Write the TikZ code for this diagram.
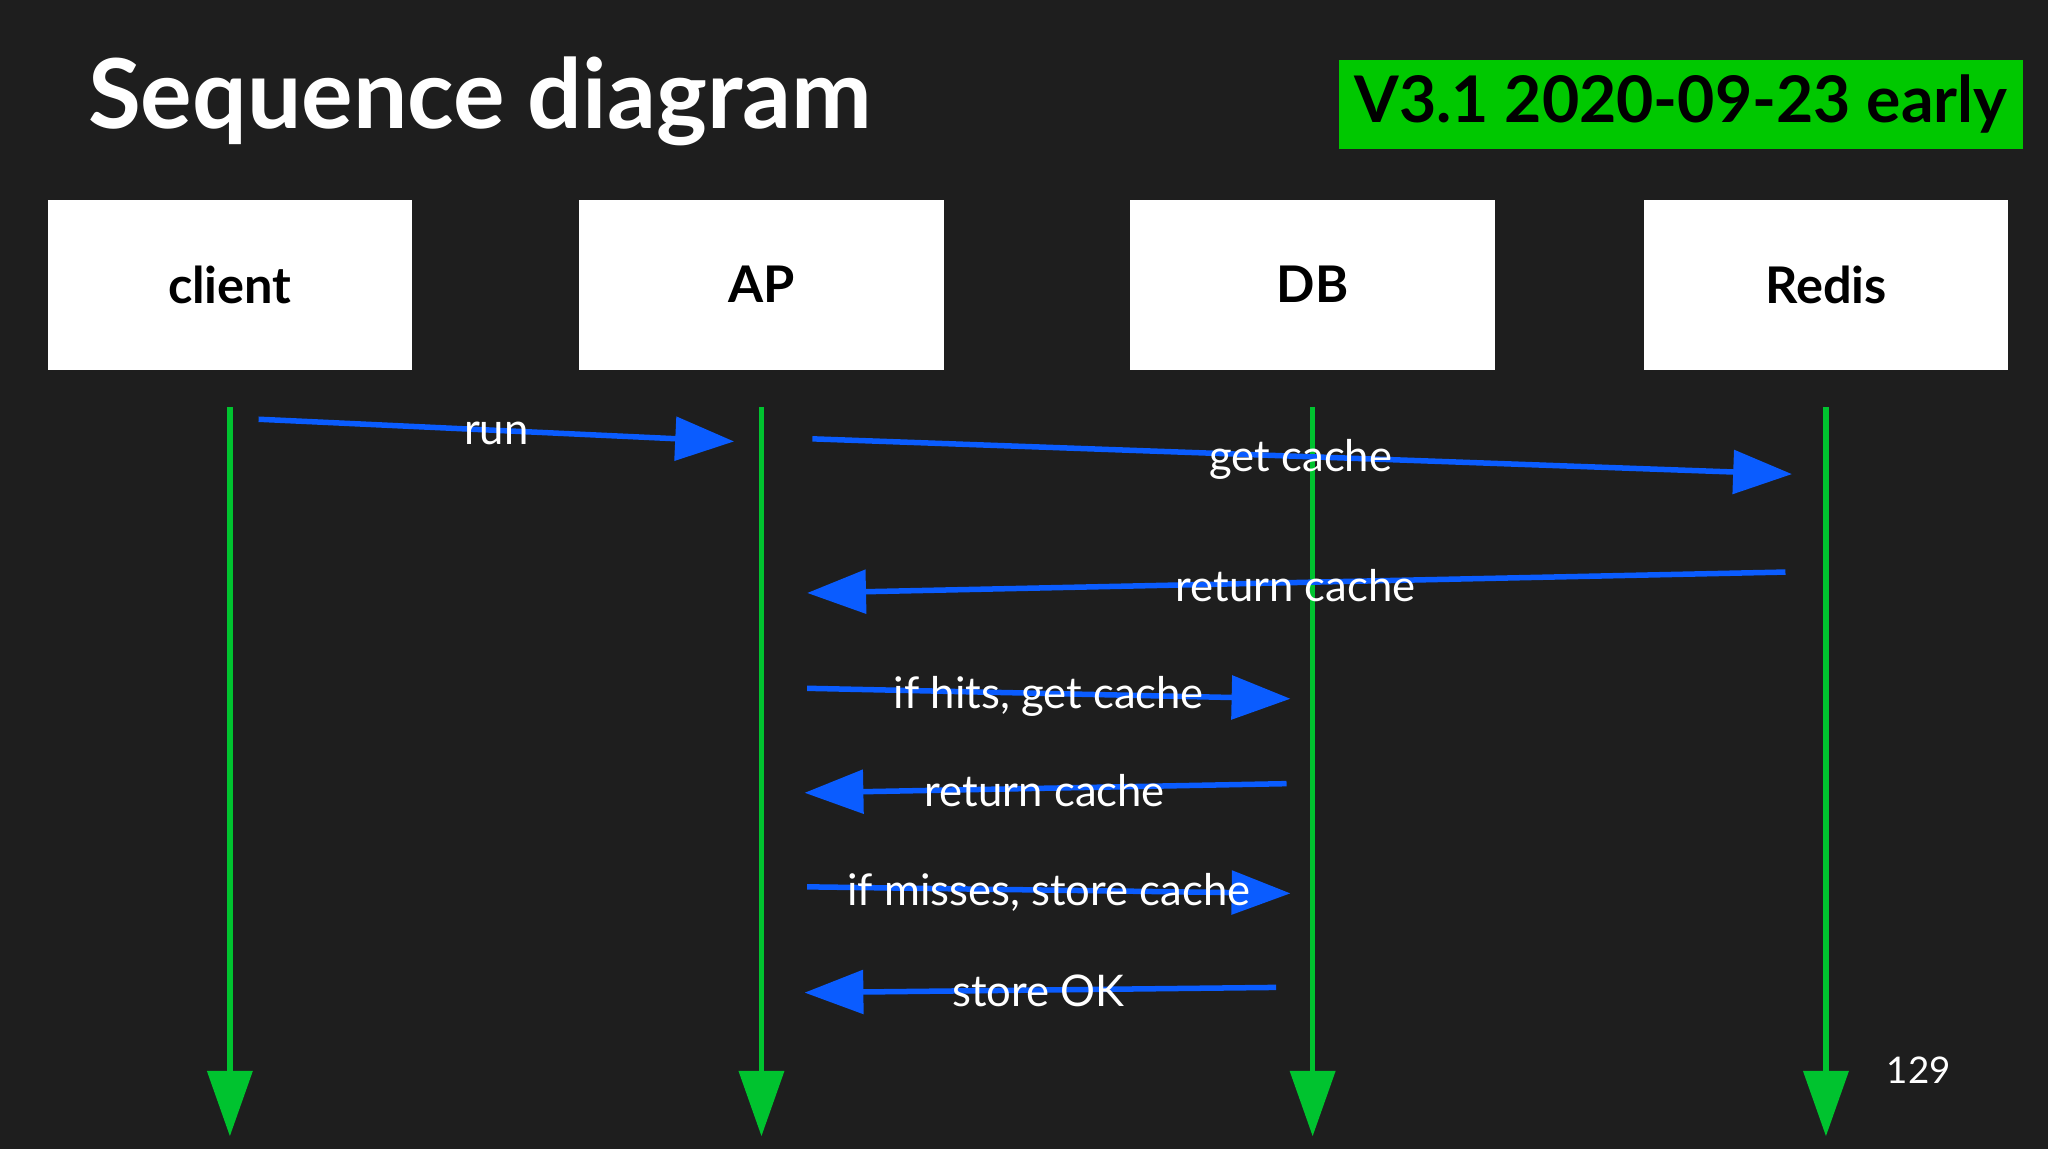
\documentclass[tikz,border=0pt]{standalone}
\usepackage{fontspec}
\setmainfont{Lato}
\usetikzlibrary{arrows.meta, positioning}
\definecolor{slidebg}{HTML}{1E1E1E}
\definecolor{msgblue}{HTML}{0A5CFF}
\definecolor{lifegreen}{HTML}{00C32F}
\definecolor{tagreen}{HTML}{00C800}
\begin{document}
\begin{tikzpicture}[x=0.01cm, y=-0.01cm,
    actor/.style={rectangle, fill=white, minimum width=2.79cm, minimum height=1.30cm, font=\fontsize{11}{13}\selectfont\bfseries, text=black},
    lifeline/.style={-{Triangle[length=0.5cm, width=0.34cm]}, lifegreen, line width=1.2pt},
    msg/.style={-{Triangle[length=0.45cm, width=0.33cm]}, msgblue, line width=1.2pt},
    msglabel/.style={text=white, font=\fontsize{9.5}{11}\selectfont, inner sep=0pt}]
    
    % Background
    \fill[slidebg] (0,0) rectangle (1568,880);
    \useasboundingbox (0,0) rectangle (1568,880);
    
    % Title and version tag
    \node[anchor=west, text=white, font=\fontsize{21}{24}\selectfont\bfseries] (title) at (55,78) {Sequence diagram};
    \node[rectangle, fill=tagreen, minimum width=4.77cm, minimum height=0.64cm, font=\fontsize{14}{16}\selectfont\bfseries] (version) at (1287,80) {V3.1 2020-09-23 early};
    
    % Actors
    \node[actor] (client) at (176,218) {client};
    \node[actor] (ap) at (583,218) {AP};
    \node[actor] (db) at (1005,218) {DB};
    \node[actor] (redis) at (1398,218) {Redis};
    
    % Lifelines
    \foreach \a in {client, ap, db, redis} {
        \coordinate (\a_top) at ([yshift=-0.28cm]\a.south);
        \coordinate (\a_end) at (\a.south |- 0,870);
        \draw[lifeline] (\a_top) -- (\a_end);
    }
    
    % Message end points
    \coordinate (run_s) at (198,321);   \coordinate (run_e) at (562,338);
    \coordinate (get_s) at (622,336);   \coordinate (get_e) at (1372,363);
    \coordinate (ret_s) at (1367,438);  \coordinate (ret_e) at (618,454);
    \coordinate (hit_s) at (618,527);   \coordinate (hit_e) at (988,535);
    \coordinate (rdb_s) at (985,600);   \coordinate (rdb_e) at (616,607);
    \coordinate (miss_s) at (618,679);  \coordinate (miss_e) at (988,684);
    \coordinate (ok_s) at (977,756);    \coordinate (ok_e) at (616,760);
    
    % Messages
    \draw[msg] (run_s) -- (run_e);
    \node[msglabel] (run_lbl) at (380,332) {run};
    \draw[msg] (get_s) -- (get_e);
    \node[msglabel] (get_lbl) at (996,352) {get cache};
    \draw[msg] (ret_s) -- (ret_e);
    \node[msglabel] (ret_lbl) at (992,448) {return cache};
    \draw[msg] (hit_s) -- (hit_e);
    \node[msglabel] (hit_lbl) at (803,533) {if hits, get cache};
    \draw[msg] (rdb_s) -- (rdb_e);
    \node[msglabel] (rdb_lbl) at (800,605) {return cache};
    \draw[msg] (miss_s) -- (miss_e);
    \node[msglabel] (miss_lbl) at (803,683) {if misses, store cache};
    \draw[msg] (ok_s) -- (ok_e);
    \node[msglabel] (ok_lbl) at (795,759) {store OK};
    
    % Page number
    \node[text=white, font=\fontsize{8}{10}\selectfont] (page) at (1469,819) {129};
    
\end{tikzpicture}
\end{document}
